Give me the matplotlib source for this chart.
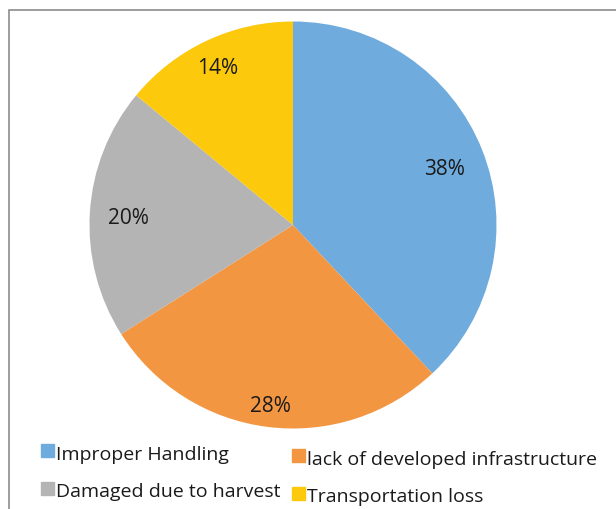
import matplotlib.pyplot as plt
import numpy as np
from matplotlib.patches import Rectangle

# dados do gráfico
labels = ["Improper Handling", "lack of developed infrastructure",
          "Damaged due to harvest", "Transportation loss"]
values = [38, 28, 20, 14]
colors = ["#6FABDD", "#F39642", "#B4B4B4", "#FCC90D"]

plt.rcParams['font.family'] = ['Open Sans', 'DejaVu Sans']

W, H = 616, 509
fig = plt.figure(figsize=(W / 100, H / 100), dpi=100)

# moldura do gráfico (cortada à direita e embaixo)
fig.patches.append(Rectangle((8.5 / W, -0.1), 1.2, 1 - 9.5 / H + 0.1,
                             transform=fig.transFigure, fill=False,
                             edgecolor="#8C8C8C", linewidth=1.2))

cx, cy, r = 293, 225, 203.5
ax = fig.add_axes([(cx - r) / W, (H - cy - r) / H, 2 * r / W, 2 * r / H])
wedges, texts, autotexts = ax.pie(values, colors=colors, startangle=90,
                                  counterclock=False, autopct="%d%%",
                                  pctdistance=0.8,
                                  wedgeprops=dict(linewidth=0),
                                  textprops=dict(fontsize=15, color="#1a1a1a"))
ax.set_xlim(-1, 1)
ax.set_ylim(-1, 1)
ax.set_aspect("auto")
ax.axis("off")

# posição dos rótulos (estilo Excel "melhor ajuste"), um pouco abaixo
dists = [0.8, 0.88, 0.81, 0.87]
shift = 4 / r
for w, t, d in zip(wedges, autotexts, dists):
    ang = np.deg2rad((w.theta1 + w.theta2) / 2)
    t.set_position((d * np.cos(ang), d * np.sin(ang) - shift))

# legenda manual: (x do marcador, topo do marcador, x do texto, linha de base)
leg_pos = [(41, 444, 56, 460), (292, 449, 307, 465),
           (41, 482, 56, 497), (292, 487, 307, 502)]
for lab, col, (mx, my, tx, ty) in zip(labels, colors, leg_pos):
    fig.patches.append(Rectangle((mx / W, 1 - (my + 13) / H), 13 / W, 13 / H,
                                 transform=fig.transFigure, color=col))
    fig.text(tx / W, 1 - ty / H, lab, fontsize=14, va="baseline",
             ha="left", color="#1a1a1a")

fig.savefig("out.png", dpi=100)
